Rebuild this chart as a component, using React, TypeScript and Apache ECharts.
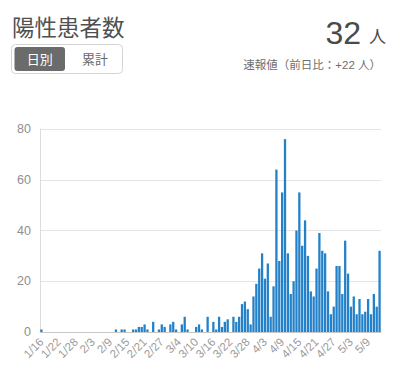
import React, { useEffect, useRef } from "react";
import * as echarts from "echarts";

const dates: string[] = [
  "1/16","1/17","1/18","1/19","1/20","1/21","1/22","1/23","1/24","1/25","1/26","1/27","1/28","1/29","1/30","1/31",
  "2/1","2/2","2/3","2/4","2/5","2/6","2/7","2/8","2/9","2/10","2/11","2/12","2/13","2/14","2/15","2/16","2/17","2/18","2/19","2/20","2/21","2/22","2/23","2/24","2/25","2/26","2/27","2/28","2/29",
  "3/1","3/2","3/3","3/4","3/5","3/6","3/7","3/8","3/9","3/10","3/11","3/12","3/13","3/14","3/15","3/16","3/17","3/18","3/19","3/20","3/21","3/22","3/23","3/24","3/25","3/26","3/27","3/28","3/29","3/30","3/31",
  "4/1","4/2","4/3","4/4","4/5","4/6","4/7","4/8","4/9","4/10","4/11","4/12","4/13","4/14","4/15","4/16","4/17","4/18","4/19","4/20","4/21","4/22","4/23","4/24","4/25","4/26","4/27","4/28","4/29","4/30",
  "5/1","5/2","5/3","5/4","5/5","5/6","5/7","5/8","5/9","5/10","5/11","5/12","5/13",
];

const janValues = [1,0,0,0,0,0,0,0,0,0,0,0,0,0,0,0];
const febValues = [0,0,0,0,0,0,0,0,0,0,1,0,1,1,0,0,1,1,2,2,3,1,0,4,0,1,3,2,0];
const marValues = [3,4,1,0,3,6,1,0,0,2,3,1,0,6,0,4,1,6,2,4,5,0,6,4,6,11,12,9,3,14,19];
const aprValues = [25,31,21,27,6,18,64,28,55,76,31,15,20,40,55,34,44,30,16,14,25,39,32,31,16,7,10,26,26,15];
const mayValues = [36,23,10,14,7,13,7,8,13,7,15,10,32];

const dailyPositives = [...janValues, ...febValues, ...marValues, ...aprValues, ...mayValues];

const yTicks = { min: 0, max: 80, interval: 20 };

const titleText = "陽性患者数";
const tabLabels = ["日別", "累計"];
const headlineValue = "32";
const headlineUnit = "人";
const subText = "速報値（前日比：+22 人）";

const FONT = "'Liberation Sans', 'Noto Sans CJK JP', sans-serif";

export default function App() {
  const ref = useRef<HTMLDivElement>(null);
  useEffect(() => {
    document.body.style.margin = "0";
    if (!ref.current) return;
    const chart = echarts.init(ref.current, undefined, { renderer: "svg" });
    chart.setOption({
      animation: false,
      textStyle: { fontFamily: FONT },
      grid: { left: 40, right: 15, top: 129, bottom: 34, containLabel: false },
      xAxis: {
        type: "category",
        data: dates,
        boundaryGap: true,
        axisLine: { show: true, lineStyle: { color: "#c8c8c8", width: 1 } },
        axisTick: { show: false },
        axisLabel: {
          interval: 5,
          rotate: 45,
          fontSize: 11.5,
          color: "#9a9a9a",
          margin: 8,
          fontFamily: FONT,
        },
        splitLine: { show: false },
      },
      yAxis: {
        type: "value",
        min: yTicks.min,
        max: yTicks.max,
        interval: yTicks.interval,
        axisLine: { show: true, lineStyle: { color: "#dcdcdc", width: 1 } },
        axisTick: { show: false },
        axisLabel: { fontSize: 12.5, color: "#8f8f8f", margin: 9, fontFamily: FONT },
        splitLine: { show: true, lineStyle: { color: "#e4e4e4", width: 1 } },
      },
      series: [
        {
          type: "bar",
          data: dailyPositives,
          barCategoryGap: "20%",
          itemStyle: { color: "#2381c9" },
        },
      ],
      graphic: [
        {
          type: "text",
          x: 12,
          y: 28,
          style: {
            text: titleText,
            fontSize: 22.5,
            fontFamily: FONT,
            fill: "#505050",
            textAlign: "left",
            textVerticalAlign: "middle",
            align: "left",
            verticalAlign: "middle",
          },
        },
        {
          type: "rect",
          shape: { x: 11.5, y: 44.5, width: 111, height: 29, r: 4 },
          style: { fill: "#ffffff", stroke: "#d4d4d4", lineWidth: 1 },
        },
        {
          type: "rect",
          shape: { x: 14.5, y: 47, width: 50.5, height: 24, r: 3 },
          style: { fill: "#6b6b6b" },
        },
        {
          type: "text",
          x: 39.8,
          y: 59.5,
          style: {
            text: tabLabels[0],
            fontSize: 13,
            fontFamily: FONT,
            fill: "#ffffff",
            textAlign: "center",
            textVerticalAlign: "middle",
            align: "center",
            verticalAlign: "middle",
          },
        },
        {
          type: "text",
          x: 95,
          y: 59.5,
          style: {
            text: tabLabels[1],
            fontSize: 13,
            fontFamily: FONT,
            fill: "#666666",
            textAlign: "center",
            textVerticalAlign: "middle",
            align: "center",
            verticalAlign: "middle",
          },
        },
        {
          type: "text",
          x: 361,
          y: 32.5,
          style: {
            text: headlineValue,
            fontSize: 32,
            fontFamily: FONT,
            fill: "#4a4a4a",
            textAlign: "right",
            textVerticalAlign: "middle",
            align: "right",
            verticalAlign: "middle",
          },
        },
        {
          type: "text",
          x: 386,
          y: 37.5,
          style: {
            text: headlineUnit,
            fontSize: 17,
            fontFamily: FONT,
            fill: "#4a4a4a",
            textAlign: "right",
            textVerticalAlign: "middle",
            align: "right",
            verticalAlign: "middle",
          },
        },
        {
          type: "text",
          x: 381,
          y: 64.5,
          style: {
            text: subText,
            fontSize: 11.5,
            fontFamily: FONT,
            fill: "#6e6e6e",
            textAlign: "right",
            textVerticalAlign: "middle",
            align: "right",
            verticalAlign: "middle",
          },
        },
      ],
    });
    return () => chart.dispose();
  }, []);
  return <div ref={ref} style={{ width: 396, height: 366 }} />;
}
